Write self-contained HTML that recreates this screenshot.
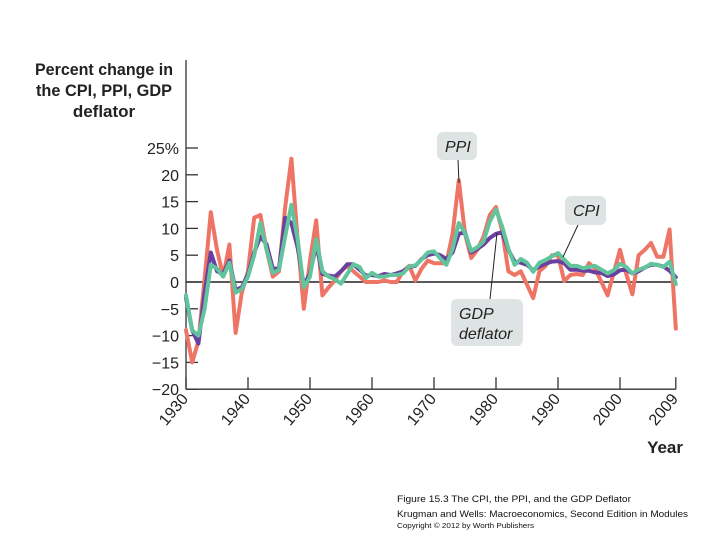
<!DOCTYPE html>
<html><head><meta charset="utf-8"><style>
body{margin:0;background:#fff;width:720px;height:540px;overflow:hidden;font-family:"Liberation Sans",sans-serif}
svg{display:block}
</style></head><body>
<svg id="chart" width="720" height="540">
<g font-family="Liberation Sans, sans-serif" font-weight="bold" font-size="17" fill="#222" text-anchor="middle">
<text x="104" y="75" textLength="138" lengthAdjust="spacingAndGlyphs">Percent change in</text>
<text x="104" y="96" textLength="136" lengthAdjust="spacingAndGlyphs">the CPI, PPI, GDP</text>
<text x="104" y="117">deflator</text>
</g>
<g id="axes"></g>
<g id="series"></g>
<g id="callouts"></g>
<text x="683" y="453" text-anchor="end" font-weight="bold" font-size="17" fill="#222">Year</text>
<g fill="#111" font-family="Liberation Sans, sans-serif">
<text x="397" y="502" font-size="9.5" textLength="234" lengthAdjust="spacingAndGlyphs">Figure 15.3  The CPI, the PPI, and the GDP Deflator</text>
<text x="397" y="517" font-size="9.5" textLength="291" lengthAdjust="spacingAndGlyphs">Krugman and Wells: Macroeconomics, Second Edition in Modules</text>
<text x="397" y="528" font-size="7.5" textLength="137" lengthAdjust="spacingAndGlyphs">Copyright © 2012 by Worth Publishers</text>
</g>
</svg>
<script>
const years = [];
for (let y = 1930; y <= 2009; y++) years.push(y);
const ppi = [-9,-15,-11,0.5,13,6,1,7,-9.5,-2,2,12,12.5,6,1,2,14,23,8,-5,4,11.5,-2.5,-1,0.3,2,3,2,1,0,0,0,0.3,0,0,2,3,0.3,2.5,4,3.5,3.5,3.5,9,19,9,4.5,6,8.5,12.5,14,9.5,2,1.3,2,-0.5,-3,2,3,5,5,0.2,1.3,1.5,1.3,3.5,2.5,0,-2.5,1.8,6,1.5,-2.3,5,6,7.3,4.7,4.7,9.8,-8.7];
const cpi = [-2.5,-9,-10,-5,3.2,2.5,1,3.6,-2,-1.3,1,5,11,6,1.7,2.3,8.5,14.4,8,-1,1,8,2,1,0.5,-0.3,1.5,3.3,2.8,0.7,1.7,1,1,1.3,1.3,1.6,2.9,3.1,4.2,5.5,5.7,4.4,3.2,6.2,11,9.1,5.8,6.5,7.6,11.3,13.5,10.3,6.2,3.2,4.3,3.6,1.9,3.6,4.1,4.8,5.4,4.2,3,3,2.6,2.8,3,2.3,1.6,2.2,3.4,2.8,1.6,2.3,2.7,3.4,3.2,2.8,3.8,-0.4];
const gdp = [-3,-9,-11.5,-2,5.5,2,1.5,4,-1.5,-1,1.5,5.5,8.5,7,2.5,2.5,12,11,6.5,-0.5,1.5,7,1.5,1.2,1,2,3.3,3.3,2.3,1.2,1.3,1.1,1.5,1.3,1.6,2,2.8,3,4.3,5,5.3,5,4.3,5.5,9,9.3,5.5,6.2,7,8.2,9,9.3,6,3.8,3.6,3.2,2.2,2.9,3.4,3.8,3.9,3.5,2.3,2.3,2.1,2.1,1.8,1.7,1.1,1.4,2.2,2.3,1.6,2,2.7,3.2,3.2,2.9,2.1,0.9];
const yTicks = [25,20,15,10,5,0,-5,-10,-15,-20];
const xTicks = [1930,1940,1950,1960,1970,1980,1990,2000,2009];

const NS = "http://www.w3.org/2000/svg";
const X = y => 186 + (y - 1930) * 6.2;
const Y = v => 282 - v * 5.36;
function mk(tag, attrs, parent){const e=document.createElementNS(NS,tag);for(const k in attrs)e.setAttribute(k,attrs[k]);parent.appendChild(e);return e;}
const axes = document.getElementById('axes');
const yl = mk('line',{x1:186,y1:60,x2:186,y2:Y(-20),stroke:'#333','stroke-width':1.3},axes);


const xl = mk('line',{x1:186,y1:Y(-20),x2:X(2009),y2:Y(-20),stroke:'#333','stroke-width':1.3},axes);


const zl = mk('line',{x1:186,y1:Y(0),x2:X(2009),y2:Y(0),stroke:'#222','stroke-width':1.5},axes);


yTicks.forEach(v=>{
  const t = mk('line',{x1:186,y1:Y(v),x2:198,y2:Y(v),stroke:'#333','stroke-width':1.3},axes);
  
  
  const l = mk('text',{x:179,y:Y(v)+6,'text-anchor':'end','font-size':16,fill:'#222'},axes);
  l.textContent = (v<0?'\u2212'+(-v):String(v)) + (v===25?'%':'');
  
  
});
xTicks.forEach(yr=>{
  const t = mk('line',{x1:X(yr),y1:Y(-20),x2:X(yr),y2:Y(-20)-12,stroke:'#333','stroke-width':1.3},axes);
  
  
  const l = mk('text',{x:X(yr)+3,y:Y(-20)+10,'text-anchor':'end','font-size':16,fill:'#222',transform:`rotate(-50 ${X(yr)+3} ${Y(-20)+10})`},axes);
  l.textContent = yr;
  
  
});
const series = document.getElementById('series');
function line(vals,color,name){
  const d = vals.map((v,i)=>(i?'L':'M')+X(years[i]).toFixed(1)+' '+Y(v).toFixed(1)).join(' ');
  const p = mk('path',{d:d,fill:'none',stroke:color,'stroke-width':4,'stroke-linejoin':'round','stroke-linecap':'round'},series);
  
  
}
line(ppi,'#ee7565','ppi-line');
line(gdp,'#6b3fa0','gdp-deflator-line');
line(cpi,'#62c49c','cpi-line');

const co = document.getElementById('callouts');
function callout(name,x,y,w,h,lines,lx1,ly1,lx2,ly2){
  const g = mk('g',{},co);
  
  
  mk('line',{x1:lx1,y1:ly1,x2:lx2,y2:ly2,stroke:'#222','stroke-width':1},g);
  mk('rect',{x:x,y:y,width:w,height:h,rx:6,fill:'#dde4e3'},g);
  lines.forEach((s,i)=>{const t=mk('text',{x:x+8,y:y+20+i*20,'font-size':16,'font-style':'italic',fill:'#222'},g);t.textContent=s;});
}
callout('ppi-callout',437,132,40,28,['PPI'],458,160,459,183);
callout('cpi-callout',565,196,41,29,['CPI'],578,225,563,257);
callout('gdp-deflator-callout',451,299,72,47,['GDP','deflator'],490,299,497,233);
</script>
</body></html>
